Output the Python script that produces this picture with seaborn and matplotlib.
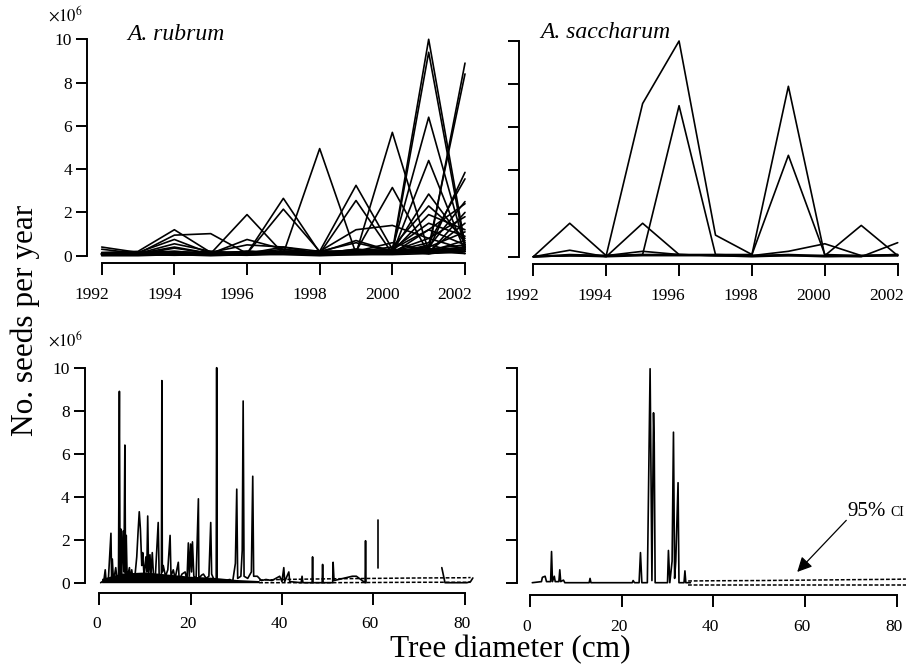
import numpy as np
import pandas as pd
import matplotlib
matplotlib.use("Agg")
import matplotlib.pyplot as plt
import matplotlib.transforms as mtransforms
import seaborn as sns

# ---- data (millions of seeds) ----
years = [1992, 1993, 1994, 1995, 1996, 1997, 1998, 1999, 2000, 2001, 2002]

rubrum_trees = [
    [0.40, 0.15, 0.20, 0.10, 0.10, 0.20, 0.10, 0.10, 0.20, 0.30, 0.50],
    [0.30, 0.10, 0.40, 0.10, 0.05, 0.10, 0.20, 0.10, 0.10, 0.20, 0.30],
    [0.15, 0.20, 1.20, 0.15, 0.10, 0.10, 0.10, 0.15, 0.10, 0.20, 0.40],
    [0.10, 0.10, 0.95, 1.02, 0.10, 0.20, 0.10, 0.20, 0.10, 0.30, 0.20],
    [0.10, 0.15, 0.75, 0.10, 0.15, 0.10, 0.20, 0.10, 0.20, 0.10, 0.30],
    [0.05, 0.10, 0.55, 0.20, 0.10, 0.40, 0.10, 0.20, 0.10, 0.20, 0.10],
    [0.05, 0.05, 0.35, 0.10, 0.20, 0.10, 0.05, 0.10, 0.30, 0.10, 0.20],
    [0.10, 0.10, 0.10, 0.10, 1.90, 0.10, 0.20, 0.10, 0.20, 0.30, 0.20],
    [0.05, 0.10, 0.20, 0.10, 0.75, 0.30, 0.10, 0.20, 0.10, 0.50, 0.10],
    [0.10, 0.05, 0.10, 0.15, 0.50, 0.40, 0.20, 0.60, 0.20, 0.10, 0.30],
    [0.05, 0.10, 0.10, 0.10, 0.10, 2.65, 0.15, 0.70, 0.20, 0.40, 1.10],
    [0.10, 0.05, 0.15, 0.10, 0.10, 2.15, 0.20, 0.20, 0.60, 0.20, 0.70],
    [0.05, 0.10, 0.10, 0.20, 0.10, 0.10, 4.95, 0.10, 0.20, 0.20, 0.40],
    [0.10, 0.10, 0.05, 0.10, 0.20, 0.20, 0.20, 3.25, 0.30, 1.20, 0.50],
    [0.05, 0.05, 0.10, 0.10, 0.10, 0.30, 0.10, 2.55, 0.10, 0.40, 2.50],
    [0.10, 0.10, 0.10, 0.05, 0.10, 0.10, 0.20, 1.20, 1.40, 0.80, 0.30],
    [0.05, 0.10, 0.05, 0.10, 0.05, 0.10, 0.10, 0.10, 5.70, 0.20, 1.50],
    [0.10, 0.05, 0.10, 0.10, 0.10, 0.20, 0.10, 0.20, 3.15, 0.10, 2.00],
    [0.05, 0.05, 0.10, 0.10, 0.10, 0.10, 0.20, 0.20, 0.20, 10.0, 0.50],
    [0.10, 0.10, 0.05, 0.10, 0.10, 0.10, 0.10, 0.30, 0.10, 9.40, 0.30],
    [0.05, 0.10, 0.10, 0.05, 0.10, 0.10, 0.10, 0.20, 0.30, 6.40, 0.40],
    [0.10, 0.05, 0.10, 0.10, 0.10, 0.10, 0.20, 0.10, 0.10, 4.40, 0.20],
    [0.05, 0.10, 0.10, 0.10, 0.20, 0.10, 0.10, 0.10, 0.20, 2.85, 0.60],
    [0.10, 0.10, 0.10, 0.10, 0.10, 0.20, 0.10, 0.20, 0.40, 2.30, 0.80],
    [0.05, 0.05, 0.10, 0.10, 0.10, 0.10, 0.10, 0.30, 0.20, 1.90, 1.20],
    [0.10, 0.10, 0.05, 0.10, 0.10, 0.10, 0.10, 0.10, 0.30, 1.50, 0.90],
    [0.05, 0.10, 0.10, 0.10, 0.10, 0.10, 0.20, 0.20, 0.10, 0.20, 8.90],
    [0.10, 0.05, 0.10, 0.10, 0.10, 0.10, 0.10, 0.10, 0.20, 0.40, 8.40],
    [0.05, 0.10, 0.10, 0.10, 0.10, 0.10, 0.10, 0.20, 0.10, 0.30, 3.85],
    [0.10, 0.10, 0.10, 0.10, 0.10, 0.10, 0.10, 0.10, 0.20, 0.60, 3.55],
    [0.05, 0.05, 0.05, 0.10, 0.10, 0.10, 0.10, 0.10, 0.10, 1.20, 2.40],
    [0.10, 0.10, 0.10, 0.05, 0.10, 0.10, 0.10, 0.10, 0.20, 0.80, 1.80],
    [0.00, 0.00, 0.05, 0.00, 0.05, 0.05, 0.00, 0.05, 0.05, 0.10, 0.20],
    [0.02, 0.05, 0.02, 0.05, 0.02, 0.10, 0.05, 0.05, 0.10, 0.20, 0.40],
]

saccharum_trees = [
    [0.00, 1.55, 0.05, 0.10, 0.10, 0.05, 0.05, 0.10, 0.05, 0.05, 0.05],
    [0.00, 0.05, 0.05, 7.10, 10.0, 1.00, 0.10, 7.90, 0.05, 1.45, 0.05],
    [0.00, 0.05, 0.05, 0.10, 7.00, 0.10, 0.10, 4.70, 0.10, 0.05, 0.10],
    [0.00, 0.05, 0.00, 1.55, 0.10, 0.05, 0.05, 0.05, 0.05, 0.00, 0.65],
    [0.00, 0.10, 0.05, 0.25, 0.10, 0.10, 0.05, 0.25, 0.60, 0.05, 0.10],
    [0.00, 0.30, 0.00, 0.05, 0.05, 0.05, 0.00, 0.05, 0.00, 0.02, 0.05],
]

# seed production against tree diameter (cm)
rubrum_dbh = [0.3, 1.0, 1.3, 1.5, 2.0, 2.55, 2.7, 2.85, 3.1, 3.6, 3.9, 4.2, 4.4, 4.55,
              4.7, 4.9, 5.2, 5.4, 5.6, 5.75, 5.9, 6.1, 6.6, 6.8, 7.1, 7.4, 7.8, 8.2,
              8.5, 8.75, 9.0, 9.3, 9.5, 9.8, 10.2, 10.4, 10.6, 10.8, 11.1, 11.3, 11.6,
              11.9, 12.3, 12.9, 13.1, 13.6, 13.7, 13.8, 14.0, 14.5, 15.0, 15.5, 15.7,
              16.2, 16.6, 17.3, 17.5, 18.1, 18.8, 19.2, 19.5, 19.7, 20.0, 20.2, 20.4,
              20.7, 21.2, 21.7, 21.8, 22.4, 22.8, 23.4, 24.0, 24.4, 24.6, 25.0, 25.6,
              25.7, 25.8, 26.5, 27.5, 28.6, 29.2, 29.8, 30.1, 30.3, 31.0, 31.3, 31.5,
              31.7, 32.5, 33.3, 33.6, 33.8, 34.6, 35.5, 36.5, 37.8, 39.5, 40.0, 40.4,
              40.6, 41.5, 41.7, 44.2, 44.4, 44.6, 46.6, 46.7, 46.8, 48.8, 48.9, 49.0,
              51.1, 51.2, 51.4, 55.4, 56.3, 58.2, 58.3, 58.4]
rubrum_seeds = [0.0, 0.1, 0.6, 0.05, 0.2, 2.3, 0.1, 1.1, 0.05, 0.7, 0.1, 0.3, 8.9, 0.2,
                2.5, 0.3, 2.4, 0.5, 6.4, 0.3, 2.2, 0.2, 0.7, 0.1, 0.6, 0.1, 0.3, 1.2,
                2.4, 3.3, 2.5, 0.8, 1.4, 0.3, 1.2, 0.5, 3.1, 0.4, 1.3, 0.3, 1.4,
                0.2, 0.4, 2.8, 0.4, 0.3, 9.4, 0.5, 0.8, 0.3, 0.6, 2.2, 0.3,
                0.6, 0.2, 0.95, 0.1, 0.4, 0.5, 0.1, 1.85, 0.3, 1.8, 0.5, 1.9,
                0.3, 0.2, 3.9, 0.2, 0.35, 0.4, 0.2, 0.3, 2.8, 0.4, 0.2, 0.1,
                10.0, 0.1, 0.05, 0.1, 0.15, 0.05, 0.9, 4.35, 0.2, 0.3, 1.5, 8.45,
                0.3, 0.2, 0.5, 4.95, 0.3, 0.3, 0.1, 0.15, 0.1, 0.3, 0.05, 0.7,
                0.05, 0.5, 0.05, 0.0, 0.3, 0.0, 0.0, 1.2, 0.0, 0.0, 0.85, 0.0,
                0.0, 0.95, 0.1, 0.3, 0.3, 0.0, 1.95, 0.0]
rubrum_seg61_dbh = [61.1, 61.1]
rubrum_seg61_seeds = [0.7, 2.9]
rubrum_seg75_dbh = [75.0, 75.7, 80.5, 81.3, 81.8]
rubrum_seg75_seeds = [0.7, 0.0, 0.0, 0.05, 0.22]
rubrum_floor_dbh = [0.5, 5, 10, 15, 20, 25, 30, 35]
rubrum_floor_top = [0.2, 0.45, 0.5, 0.4, 0.3, 0.25, 0.15, 0.1]

saccharum_dbh = [0.5, 2.5, 2.7, 3.3, 3.6, 4.5, 4.7, 4.9, 5.3, 5.5, 6.3, 6.5, 6.7, 7.3,
                 7.6, 12.9, 13.1, 13.3, 22.3, 22.5, 22.8, 23.8, 24.1, 24.4, 25.6,
                 26.2, 26.6, 26.95, 27.1, 27.3, 30.0, 30.2, 30.5, 31.0, 31.3, 31.55,
                 31.8, 32.3, 32.5, 33.6, 33.8, 34.0, 35.0]
saccharum_seeds = [0.0, 0.05, 0.25, 0.3, 0.05, 0.05, 1.45, 0.05, 0.3, 0.05, 0.05, 0.6,
                   0.05, 0.12, 0.0, 0.0, 0.2, 0.0, 0.0, 0.1, 0.0, 0.0, 1.4, 0.0, 0.0,
                   9.95, 0.1, 7.9, 6.5, 0.0, 0.0, 1.5, 0.0, 1.0, 7.0, 0.2,
                   1.0, 4.65, 0.0, 0.0, 0.55, 0.0, 0.0]

rubrum_ci_dbh = [35, 40, 50, 60, 70, 80, 81.3]
rubrum_ci_upper = [0.12, 0.15, 0.18, 0.2, 0.22, 0.23, 0.24]
rubrum_ci_lower = [0.0, 0.0, 0.0, 0.01, 0.02, 0.02, 0.02]
saccharum_ci_dbh = [34.5, 40, 50, 60, 70, 80, 82]
saccharum_ci_upper = [0.08, 0.09, 0.1, 0.12, 0.14, 0.16, 0.17]
saccharum_ci_lower = [-0.1, -0.1, -0.1, -0.1, -0.1, -0.1, -0.1]

# ---- style ----
sns.set_style("ticks")
plt.rcParams["font.family"] = ["Liberation Serif", "DejaVu Serif"]
plt.rcParams["mathtext.fontset"] = "stix"
plt.rcParams["text.color"] = "black"
plt.rcParams["xtick.color"] = "black"
plt.rcParams["ytick.color"] = "black"
plt.rcParams["axes.edgecolor"] = "black"

W, H = 907, 666
fig = plt.figure(figsize=(W / 100, H / 100), dpi=100)


def place(ax, xref, xpx, yref, ypx, xlim, ylim):
    sx = (xpx[1] - xpx[0]) / (xref[1] - xref[0])
    sy = (ypx[1] - ypx[0]) / (yref[1] - yref[0])
    left = xpx[0] + (xlim[0] - xref[0]) * sx
    right = xpx[0] + (xlim[1] - xref[0]) * sx
    top = ypx[0] + (ylim[1] - yref[0]) * sy
    bottom = ypx[0] + (ylim[0] - yref[0]) * sy
    ax.set_position([left / W, 1 - bottom / H, (right - left) / W, (bottom - top) / H])
    ax.set_xlim(*xlim)
    ax.set_ylim(*ylim)


def style(ax, xb, xticks, ylabels, xshift):
    sns.despine(ax=ax)
    ax.spines["left"].set_bounds(0, 10)
    ax.spines["bottom"].set_bounds(*xb)
    for s in ("left", "bottom"):
        ax.spines[s].set_linewidth(1.4)
        ax.spines[s].set_color("black")
    ax.set_yticks([0, 2, 4, 6, 8, 10])
    ax.set_xticks(xticks)
    ax.tick_params(axis="y", direction="out", length=8, width=1.4,
                   labelsize=12.5, pad=3, color="black", labelcolor="black")
    ax.tick_params(axis="x", direction="out", length=8.5, width=1.4,
                   labelsize=12.5, pad=8.5, color="black", labelcolor="black")
    if not ylabels:
        ax.set_yticklabels([])
    shift = mtransforms.ScaledTranslation(-xshift / 100, 0, fig.dpi_scale_trans)
    for lab in ax.get_xticklabels():
        lab.set_transform(lab.get_transform() + shift)
    ax.set_xlabel("")
    ax.set_ylabel("")


def tidy(trees):
    rows = []
    for i, vals in enumerate(trees):
        for y, v in zip(years, vals):
            rows.append({"year": y, "seeds": v, "tree": i})
    return pd.DataFrame(rows)


lw = 1.2

# top-left: A. rubrum by year
ax1 = fig.add_axes([0, 0, 1, 1])
sns.lineplot(data=tidy(rubrum_trees), x="year", y="seeds", units="tree",
             estimator=None, color="black", lw=lw, ax=ax1)
place(ax1, (1992, 2002), (101.7, 465), (0, 10), (255.7, 39.3),
      (1991.6, 2002.15), (-0.34, 10.3))
style(ax1, (1992, 2002), [1992, 1994, 1996, 1998, 2000, 2002], True, 10)

# top-right: A. saccharum by year
ax2 = fig.add_axes([0, 0, 1, 1])
sns.lineplot(data=tidy(saccharum_trees), x="year", y="seeds", units="tree",
             estimator=None, color="black", lw=lw, ax=ax2)
place(ax2, (1992, 2002), (533.3, 897.7), (0, 10), (256.7, 41),
      (1991.62, 2002.3), (-0.35, 10.3))
style(ax2, (1992, 2002), [1992, 1994, 1996, 1998, 2000, 2002], False, 11)

# bottom-left: A. rubrum by diameter
ax3 = fig.add_axes([0, 0, 1, 1])
ax3.fill_between(rubrum_floor_dbh, 0, rubrum_floor_top, color="black", lw=0)
sns.lineplot(x=rubrum_dbh, y=rubrum_seeds, sort=False, estimator=None,
             color="black", lw=lw, ax=ax3)
sns.lineplot(x=rubrum_seg61_dbh, y=rubrum_seg61_seeds, sort=False, estimator=None,
             color="black", lw=lw, ax=ax3)
sns.lineplot(x=rubrum_seg75_dbh, y=rubrum_seg75_seeds, sort=False, estimator=None,
             color="black", lw=lw, ax=ax3)
for yy in (rubrum_ci_upper, rubrum_ci_lower):
    ax3.plot(rubrum_ci_dbh, yy, color="black", lw=1.1, dashes=(2.5, 1.2))
place(ax3, (0, 60), (99.3, 373.3), (0, 10), (582.7, 367.7), (-3.13, 83), (-0.47, 10.3))
style(ax3, (0, 80), [0, 20, 40, 60, 80], True, 3)

# bottom-right: A. saccharum by diameter
ax4 = fig.add_axes([0, 0, 1, 1])
sns.lineplot(x=saccharum_dbh, y=saccharum_seeds, sort=False, estimator=None,
             color="black", lw=lw, ax=ax4)
for yy in (saccharum_ci_upper, saccharum_ci_lower):
    ax4.plot(saccharum_ci_dbh, yy, color="black", lw=1.1, dashes=(2.5, 1.2))
place(ax4, (0, 80), (530, 896.7), (0, 10), (582.7, 367.7), (-2.77, 83), (-0.57, 10.3))
style(ax4, (0, 80), [0, 20, 40, 60, 80], False, 3)

# annotation
ax4.annotate("", xy=(58.3, 0.5), xytext=(69.0, 2.9),
             arrowprops=dict(arrowstyle="-|>", color="black", lw=0.9,
                             mutation_scale=22, shrinkA=0, shrinkB=0))
ax4.text(69.3, 3.3, "95%", fontsize=15, ha="left", va="center", color="black")
ax4.text(78.6, 3.25, "CI", fontsize=10, ha="left", va="center", color="black")

# texts
fig.text(127 / W, 1 - 34 / H, "A. rubrum", fontsize=17, style="italic",
         ha="left", va="center", color="black")
fig.text(540 / W, 1 - 33 / H, "A. saccharum", fontsize=17, style="italic",
         ha="left", va="center", color="black")
fig.text(48 / W, 1 - 15 / H, r"$\times10^{6}$", fontsize=12, ha="left", va="center",
         color="black")
fig.text(48 / W, 1 - 340 / H, r"$\times10^{6}$", fontsize=12, ha="left", va="center",
         color="black")
fig.text(25 / W, 1 - 320 / H, "No. seeds per year", fontsize=22.5, rotation=90,
         ha="center", va="center", color="black")
fig.text(510 / W, 1 - 650 / H, "Tree diameter (cm)", fontsize=22.5,
         ha="center", va="center", color="black")

fig.savefig("out.png", dpi=100)
